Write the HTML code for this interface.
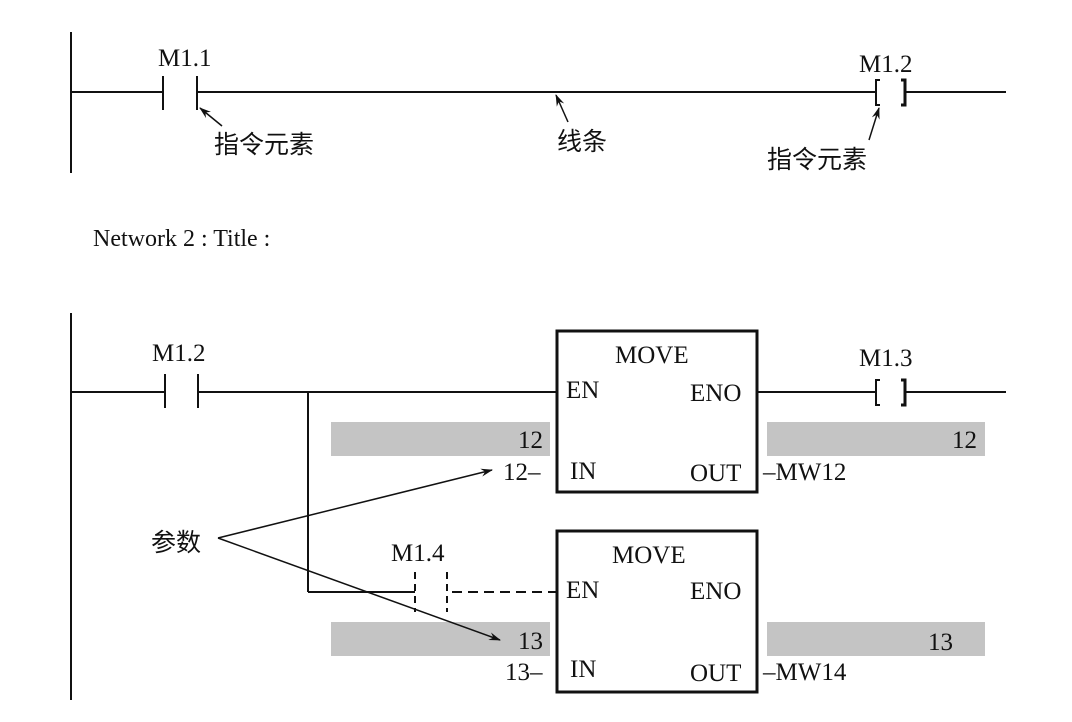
<!DOCTYPE html>
<html><head><meta charset="utf-8"><style>
html,body{margin:0;padding:0;background:#fff;}
svg{display:block;}
text{font-family:"Liberation Serif","Noto Serif CJK SC",serif;fill:#111;}
.cj{font-family:"Liberation Serif","Noto Sans CJK SC",sans-serif;}
</style></head><body>
<svg width="1072" height="722" viewBox="0 0 1072 722" xmlns="http://www.w3.org/2000/svg">
<defs>
<marker id="ah" markerWidth="12" markerHeight="8" refX="11" refY="4" orient="auto" markerUnits="userSpaceOnUse">
<path d="M0,0 L12,4 L0,8 L4,4 Z" fill="#111"/></marker>
</defs>
<g stroke="#111" fill="none" stroke-width="2">
<!-- Network 1 -->
<line x1="71" y1="32" x2="71" y2="173"/>
<line x1="71" y1="92" x2="163" y2="92"/>
<line x1="163" y1="76" x2="163" y2="110"/>
<line x1="197" y1="76" x2="197" y2="110"/>
<line x1="197" y1="92" x2="876" y2="92"/>
<path d="M880,80 H876 V105 H880"/>
<path d="M901,80 H905 V105 H901" stroke-width="3"/>
<line x1="905" y1="92" x2="1006" y2="92"/>
<line x1="222" y1="126" x2="200" y2="108" stroke-width="1.5" marker-end="url(#ah)"/>
<line x1="568" y1="122" x2="556" y2="95" stroke-width="1.5" marker-end="url(#ah)"/>
<line x1="869" y1="140" x2="879" y2="108" stroke-width="1.5" marker-end="url(#ah)"/>
<!-- Network 2 -->
<line x1="71" y1="313" x2="71" y2="700"/>
<line x1="71" y1="392" x2="165" y2="392"/>
<line x1="165" y1="374" x2="165" y2="408"/>
<line x1="198" y1="374" x2="198" y2="408"/>
<line x1="198" y1="392" x2="557" y2="392"/>
<line x1="308" y1="392" x2="308" y2="592"/>
<line x1="308" y1="592" x2="415" y2="592"/>
<line x1="415" y1="572" x2="415" y2="612" stroke-dasharray="7,5"/>
<line x1="447" y1="572" x2="447" y2="612" stroke-dasharray="7,5"/>
<line x1="452" y1="592" x2="557" y2="592" stroke-dasharray="10,6"/>
<line x1="758" y1="392" x2="876" y2="392"/>
<path d="M880,380 H876 V405 H880"/>
<path d="M901,380 H905 V405 H901" stroke-width="3"/>
<line x1="905" y1="392" x2="1006" y2="392"/>
</g>
<rect x="331" y="422" width="219" height="34" fill="#c4c4c4"/>
<rect x="331" y="622" width="219" height="34" fill="#c4c4c4"/>
<rect x="767" y="422" width="218" height="34" fill="#c4c4c4"/>
<rect x="767" y="622" width="218" height="34" fill="#c4c4c4"/>
<rect x="557" y="331" width="200" height="161" fill="none" stroke="#111" stroke-width="3"/>
<rect x="557" y="531" width="200" height="161" fill="none" stroke="#111" stroke-width="3"/>
<g stroke="#111" stroke-width="1.5">
<line x1="218" y1="538" x2="492" y2="470" marker-end="url(#ah)"/>
<line x1="218" y1="538" x2="500" y2="640" marker-end="url(#ah)"/>
</g>
<g font-size="25">
<text x="158" y="66">M1.1</text>
<text x="859" y="72">M1.2</text>
<text x="93" y="246" font-size="24">Network 2 : Title :</text>
<text x="152" y="361">M1.2</text>
<text x="859" y="366">M1.3</text>
<text x="391" y="561">M1.4</text>
<text x="615" y="363">MOVE</text>
<text x="566" y="398">EN</text>
<text x="690" y="401">ENO</text>
<text x="570" y="479">IN</text>
<text x="690" y="481">OUT</text>
<text x="612" y="563">MOVE</text>
<text x="566" y="598">EN</text>
<text x="690" y="599">ENO</text>
<text x="570" y="677">IN</text>
<text x="690" y="681">OUT</text>
<text x="543" y="448" text-anchor="end">12</text>
<text x="543" y="649" text-anchor="end">13</text>
<text x="977" y="448" text-anchor="end">12</text>
<text x="953" y="650" text-anchor="end">13</text>
<text x="503" y="480">12–</text>
<text x="505" y="680">13–</text>
<text x="763" y="480">–MW12</text>
<text x="763" y="680">–MW14</text>
</g>
<g font-size="25" class="cj">
<text class="cj" x="214" y="153">指令元素</text>
<text class="cj" x="557" y="150">线条</text>
<text class="cj" x="767" y="168">指令元素</text>
<text class="cj" x="151" y="551">参数</text>
</g>
</svg>
</body></html>
